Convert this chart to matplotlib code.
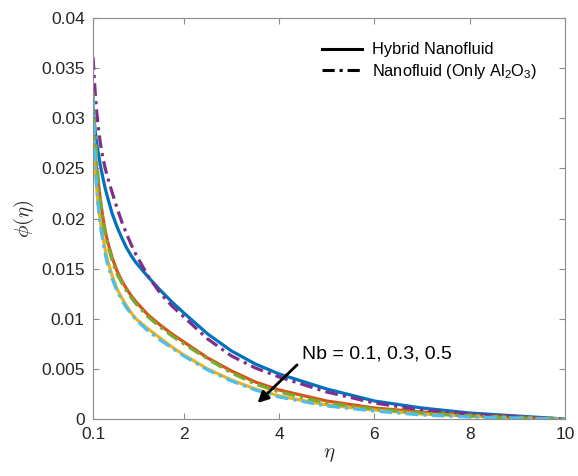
import matplotlib
matplotlib.use("Agg")
import matplotlib.pyplot as plt

plt.rcParams['font.family'] = ['Liberation Sans', 'DejaVu Sans']
plt.rcParams['mathtext.fontset'] = 'cm'

# eta grid the profiles were read on (denser near the wall)
eta = [0.1, 0.125, 0.15, 0.175, 0.2, 0.25, 0.3, 0.35, 0.4, 0.5, 0.6, 0.7, 0.8, 0.9,
       1.0, 1.25, 1.5, 1.75, 2.0, 2.5, 3.0, 3.5, 4.0, 5.0, 6.0, 7.0, 8.0, 9.0, 10.0]

# hybrid nanofluid, Nb = 0.1, 0.3, 0.5
hyb_nb1 = [0.0310, 0.0296, 0.0285, 0.0276, 0.0268, 0.0254, 0.0242, 0.0231, 0.0222,
           0.0205, 0.0192, 0.0181, 0.0171, 0.0163, 0.0156, 0.0142, 0.0129, 0.0117,
           0.0106, 0.0085, 0.0068, 0.0055, 0.0045, 0.0030, 0.0018, 0.0011, 0.0006,
           0.0003, 0.0]
hyb_nb3 = [0.0290, 0.0275, 0.0262, 0.0250, 0.0240, 0.0220, 0.0203, 0.0189, 0.0178,
           0.0161, 0.0148, 0.0138, 0.0130, 0.0123, 0.0117, 0.0104, 0.0094, 0.0085,
           0.0077, 0.0061, 0.0048, 0.0037, 0.0029, 0.0018, 0.0011, 0.0007, 0.0004,
           0.0002, 0.0]
hyb_nb5 = [0.0280, 0.0262, 0.0246, 0.0231, 0.0218, 0.0198, 0.0183, 0.0170, 0.0159,
           0.0143, 0.0130, 0.0121, 0.0113, 0.0106, 0.0100, 0.0090, 0.0081, 0.0072,
           0.0064, 0.0050, 0.0039, 0.0030, 0.0023, 0.0014, 0.0009, 0.0005, 0.0003,
           0.0001, 0.0]

# Al2O3 only nanofluid, Nb = 0.1, 0.3, 0.5
nf_nb1 = [0.0361, 0.0340, 0.0322, 0.0307, 0.0295, 0.0276, 0.0262, 0.0251, 0.0242,
          0.0226, 0.0211, 0.0197, 0.0185, 0.0174, 0.0164, 0.0143, 0.0126, 0.0113,
          0.0102, 0.0080, 0.0063, 0.0051, 0.0042, 0.0027, 0.0016, 0.0009, 0.0005,
          0.0002, 0.0]
nf_nb3 = [0.0326, 0.0300, 0.0279, 0.0261, 0.0245, 0.0220, 0.0200, 0.0186, 0.0175,
          0.0158, 0.0145, 0.0136, 0.0128, 0.0121, 0.0115, 0.0102, 0.0092, 0.0083,
          0.0075, 0.0060, 0.0046, 0.0035, 0.0027, 0.0016, 0.0010, 0.0006, 0.0003,
          0.0001, 0.0]
nf_nb5 = [0.0322, 0.0285, 0.0255, 0.0233, 0.0216, 0.0194, 0.0179, 0.0166, 0.0155,
          0.0140, 0.0128, 0.0119, 0.0111, 0.0105, 0.0099, 0.0088, 0.0079, 0.0071,
          0.0063, 0.0049, 0.0038, 0.0029, 0.0022, 0.0013, 0.0008, 0.0004, 0.0002,
          0.0001, 0.0]

xticks = [0.1, 2, 4, 6, 8, 10]
yticks = [0, 0.005, 0.01, 0.015, 0.02, 0.025, 0.03, 0.035, 0.04]

# matlab default colour order
blue, orange, yellow = '#0072BD', '#D95319', '#EDB120'
purple, green, cyan = '#7E2F8E', '#77AC30', '#4DBEEE'
dashdot = (0, (4, 1.6, 1, 1.6))
lw = 2.3

fig = plt.figure(figsize=(5.78, 4.76), dpi=100)
ax = fig.add_axes([0.161, 0.1197, 0.8165, 0.8425])

ax.plot(eta, hyb_nb1, color=blue, lw=lw)
ax.plot(eta, hyb_nb3, color=orange, lw=lw)
ax.plot(eta, hyb_nb5, color=yellow, lw=lw)
ax.plot(eta, nf_nb1, color=purple, lw=lw, linestyle=dashdot)
ax.plot(eta, nf_nb3, color=green, lw=lw, linestyle=dashdot)
ax.plot(eta, nf_nb5, color=cyan, lw=lw, linestyle=dashdot)

# black legend entries
h1, = ax.plot([], [], color='k', lw=2.2)
h2, = ax.plot([], [], color='k', lw=2.2, linestyle=dashdot)
ax.legend([h1, h2], ['Hybrid Nanofluid', r'Nanofluid (Only Al$\mathregular{_2}$O$\mathregular{_3}$)'],
          loc='upper left', bbox_to_anchor=(0.461, 0.968), frameon=False,
          fontsize=11.8, handlelength=2.45, handletextpad=0.6, labelspacing=0.3,
          borderpad=0.2)

ax.annotate('', xy=(3.55, 0.0016), xytext=(4.38, 0.0054),
            arrowprops=dict(arrowstyle='-|>', color='k', lw=2, mutation_scale=16,
                            shrinkA=0, shrinkB=0))
ax.text(4.49, 0.006, 'Nb = 0.1, 0.3, 0.5', fontsize=14, color='k',
        ha='left', va='baseline')

ax.set_xlim(0.1, 10)
ax.set_ylim(0, 0.04)
ax.set_xticks(xticks)
ax.set_xticklabels(['0.1', '2', '4', '6', '8', '10'])
ax.set_yticks(yticks)
ax.set_yticklabels(['0', '0.005', '0.01', '0.015', '0.02', '0.025', '0.03', '0.035', '0.04'])
ax.tick_params(direction='in', length=4, width=0.8, top=True, right=True,
               labelsize=12.5, colors='#262626', pad=6)
ax.tick_params(axis='both', color='#8c8c8c')
for s in ax.spines.values():
    s.set_color('#8c8c8c')
    s.set_linewidth(0.8)

ax.set_xlabel(r'$\eta$', fontsize=15, color='#262626', labelpad=2)
ax.set_ylabel(r'$\phi(\eta)$', fontsize=15, color='#262626', labelpad=4)

fig.savefig('out.png', dpi=100)
